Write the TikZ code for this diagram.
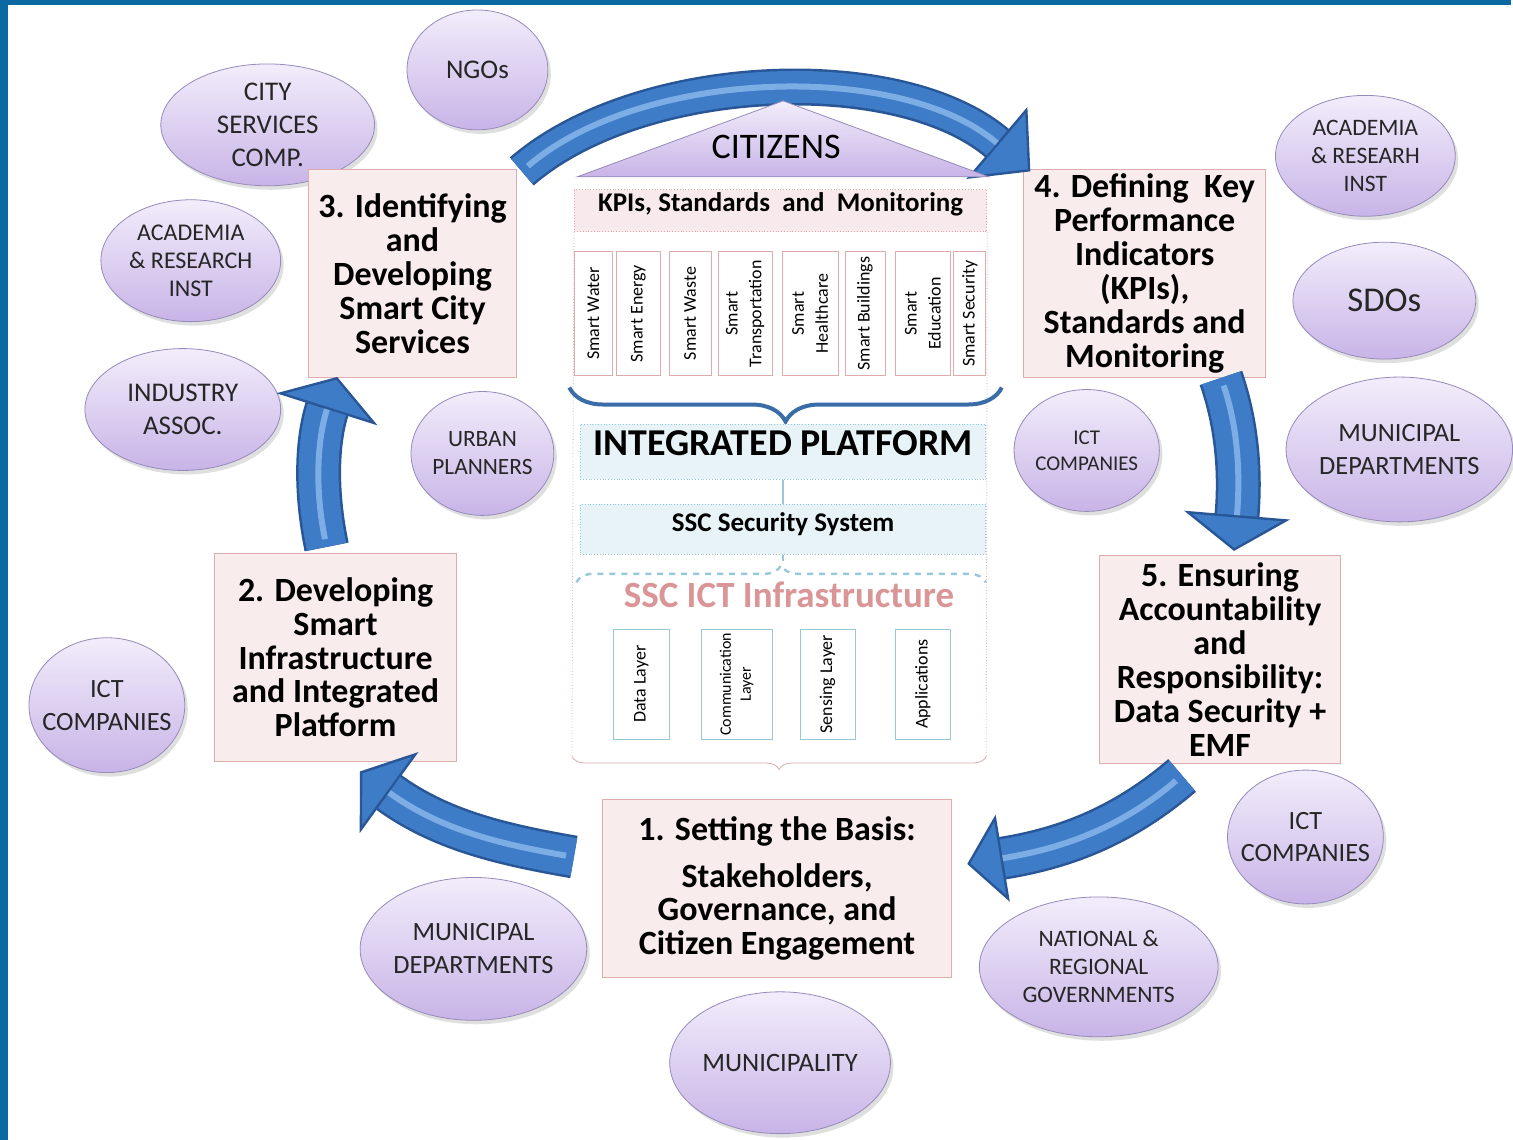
\documentclass[tikz,border=0pt]{standalone}
\usepackage{fontspec}
\setmainfont{Carlito}
\usetikzlibrary{arrows.meta,shapes.geometric,shadows,decorations.pathreplacing}

\definecolor{frameblue}{RGB}{10,105,160}
\definecolor{stepfill}{RGB}{249,236,236}
\definecolor{stepline}{RGB}{222,172,172}
\definecolor{kpifill}{RGB}{248,234,236}
\definecolor{ovaltop}{RGB}{242,237,251}
\definecolor{ovalbottom}{RGB}{200,180,231}
\definecolor{ovalline}{RGB}{150,138,185}
\definecolor{platfill}{RGB}{231,243,247}
\definecolor{platline}{RGB}{150,200,218}
\definecolor{infrapink}{RGB}{218,150,150}
\definecolor{arrowbody}{RGB}{62,124,200}
\definecolor{arrowedge}{RGB}{40,86,150}
\definecolor{arrowshine}{RGB}{140,186,236}
\definecolor{bracecol}{RGB}{58,108,168}

\newcommand{\stagefont}{\bfseries\fontsize{17}{17}\selectfont}

\begin{document}
\begin{tikzpicture}[x=0.5pt, y=-0.5pt,
    stage/.style={draw=stepline, fill=stepfill, align=center, inner sep=0pt, font=\stagefont},
    oval/.style={ellipse, draw=ovalline, top color=ovaltop, bottom color=ovalbottom, inner sep=0pt,
        align=center, text=black!85, drop shadow={opacity=0.25, shadow xshift=1.5pt, shadow yshift=-2pt}},
    service/.style={draw=stepline, fill=white, rotate=90, minimum width=62pt, inner sep=0pt,
        align=center, font=\fontsize{9}{12}\selectfont},
    layer/.style={draw=platline, fill=white, rotate=90, minimum width=55pt, inner sep=0pt,
        align=center, font=\fontsize{9}{11}\selectfont},
    band/.style={densely dotted, minimum width=203pt, inner ysep=0pt},
    bigarrow/.style n args={4}{draw=arrowedge, line width=#2,
        -{Triangle[length=#4, width=#3, line width=1.2pt, fill=arrowbody]},
        postaction={draw=arrowbody, line width=#1, shorten >=#4, -},
        postaction={draw=arrowshine, line width=3pt, shorten >=#4, shorten <=4pt, opacity=0.8, -}}]

    % page and frame
    \fill[white] (0,0) rectangle (1513,1141);
    \fill[frameblue] (0,0) rectangle (1513,5);
    \fill[frameblue] (0,0) rectangle (8,1141);

    % stakeholders
    \node[oval, minimum width=70.5pt, minimum height=60pt, font=\fontsize{13.5}{16.5}\selectfont] (ngo) at (478,70) {NGOs};
    \node[oval, minimum width=107pt, minimum height=61pt, font=\fontsize{13.5}{16.5}\selectfont] (citycomp) at (268,125) {CITY\\SERVICES\\COMP.};
    \node[oval, minimum width=90pt, minimum height=61pt, font=\fontsize{12}{14}\selectfont] (acadL) at (191,261) {ACADEMIA\\\& RESEARCH\\INST};
    \node[oval, minimum width=98pt, minimum height=61pt, font=\fontsize{13.5}{16.5}\selectfont] (industry) at (183,410) {INDUSTRY\\ASSOC.};
    \node[oval, minimum width=71.5pt, minimum height=62pt, font=\fontsize{11.7}{14}\selectfont] (urban) at (483,454) {URBAN\\PLANNERS};
    \node[oval, inner xsep=-6pt, minimum width=78pt, minimum height=67.5pt, font=\fontsize{13.2}{16.5}\selectfont] (ictL) at (107,706) {ICT\\COMPANIES};
    \node[oval, minimum width=110.5pt, minimum height=71.5pt, font=\fontsize{13.2}{16.5}\selectfont] (muniL) at (474,950) {MUNICIPAL\\DEPARTMENTS};
    \node[oval, minimum width=110.5pt, minimum height=71pt, font=\fontsize{13.3}{16.5}\selectfont] (municipality) at (781,1064) {MUNICIPALITY};
    \node[oval, minimum width=119.5pt, minimum height=70pt, font=\fontsize{11.8}{14}\selectfont] (govt) at (1100,968) {NATIONAL \&\\REGIONAL\\GOVERNMENTS};
    \node[oval, inner xsep=-6pt, minimum width=78pt, minimum height=67pt, font=\fontsize{13.2}{16}\selectfont] (ictB) at (1307,838) {ICT\\COMPANIES};
    \node[oval, minimum width=110pt, minimum height=72.5pt, font=\fontsize{13.2}{16.5}\selectfont] (muniR) at (1401,450) {MUNICIPAL\\DEPARTMENTS};
    \node[oval, minimum width=71.5pt, minimum height=61pt, font=\fontsize{10.5}{13}\selectfont] (ictM) at (1088,451) {ICT\\COMPANIES};
    \node[oval, minimum width=91.5pt, minimum height=58.5pt, font=\fontsize{17.4}{20}\selectfont] (sdo) at (1386,301) {SDOs};
    \node[oval, minimum width=90pt, minimum height=60.5pt, font=\fontsize{11.8}{14}\selectfont] (acadR) at (1367,156) {ACADEMIA\\\& RESEARH\\INST};

    % the five stages
    \node[stage, minimum width=175pt, minimum height=89.5pt] (b1) at (778,889.5) {1. Setting the Basis:\\[6.5pt]Stakeholders,\\Governance, and\\Citizen Engagement};
    \node[stage, minimum width=121pt, minimum height=104pt] (b2) at (336,658) {2. Developing\\Smart\\Infrastructure\\and Integrated\\Platform};
    \node[stage, minimum width=104pt, minimum height=104pt] (b3) at (413,274) {3. Identifying\\and\\Developing\\Smart City\\Services};
    \node[stage, minimum width=121pt, minimum height=104pt] (b4) at (1146,274) {4. Defining\ \ Key\\Performance\\Indicators\\(KPIs),\\Standards and\\Monitoring};
    \node[stage, minimum width=120.5pt, minimum height=104pt] (b5) at (1221.5,660) {5. Ensuring\\Accountability\\and\\Responsibility:\\Data Security +\\EMF};

    % centre column
    \node[band, draw=stepline, fill=kpifill, minimum width=206.5pt, minimum height=21pt, text depth=8.5pt,
        font=\bfseries\fontsize{13.5}{16}\selectfont] (kpi) at (781.5,211) {KPIs, Standards\ \ and\ \ Monitoring};
    \draw[stepline, densely dotted] (kpi.south west) -- ++(-2,525) coordinate (stackBL);
    \draw[stepline, densely dotted] (kpi.south east) -- ++(-1,525) coordinate (stackBR);
    \draw[stepline, decorate, decoration={brace, amplitude=6.5pt}] (stackBR) -- (stackBL);

    \node[service, minimum height=19pt] (water) at (594,314) {Smart Water};
    \node[service, minimum height=22pt] (energy) at (639,314) {Smart Energy};
    \node[service, minimum height=21pt] (waste) at (691,314) {Smart Waste};
    \node[service, minimum height=27pt] (transport) at (746,314) {Smart\\Transportation};
    \node[service, minimum height=28pt] (health) at (811,314) {Smart\\Healthcare};
    \node[service, minimum height=20pt] (buildings) at (866,314) {Smart Buildings};
    \node[service, minimum height=28pt] (education) at (924,314) {Smart\\Education};
    \node[service, minimum height=16pt] (security) at (971,314) {Smart Security};

    \draw[bracecol, line width=2pt, decorate, decoration={brace, amplitude=17pt}] (1003,388) -- (570,388);

    \node[band, draw=platline, fill=platfill, minimum height=27.5pt, text depth=8.5pt,
        font=\bfseries\fontsize{19}{21}\selectfont] (platform) at (784,452.5) {INTEGRATED PLATFORM};
    \node[band, draw=platline, fill=platfill, minimum height=25pt, text depth=7pt,
        font=\bfseries\fontsize{13.5}{16}\selectfont] (ssc) at (784,530) {SSC Security System};
    \coordinate (ictTop) at (784,567);
    \draw[platline, line width=1pt] (platform) -- (ssc);
    \draw[platline, dashed, line width=1.2pt] (ssc) -- (ictTop);
    \draw[platline, dashed, line width=1.2pt, decorate, decoration={brace, amplitude=8.5pt}] (577,583) -- (987,583);

    \node[text=infrapink, font=\bfseries\fontsize{18.5}{20}\selectfont] (infra) at (790,596) {SSC ICT Infrastructure};
    \node[layer, minimum height=28pt] (data) at (642,685) {Data Layer};
    \node[layer, minimum height=35.5pt, font=\fontsize{8}{10}\selectfont] (comm) at (737.5,685) {Communication\\Layer};
    \node[layer, minimum height=27.5pt] (sensing) at (828.5,685) {Sensing Layer};
    \node[layer, minimum height=28pt] (apps) at (924,685) {Applications};

    % cycle arrows
    \draw[bigarrow={16pt}{18.5pt}{47pt}{22pt}] ([shift={(5,2)}]b3.north east) .. controls +(118,-102) and +(-132,-112) .. ([shift={(7,2)}]b4.north west);
    \draw[bigarrow={20pt}{22.5pt}{53pt}{18pt}] ([shift={(-45,0)}]b4.south east) .. controls +(18,52) and +(6,-72) .. ([shift={(14,-4)}]b5.north);
    \draw[bigarrow={19pt}{21.5pt}{44pt}{18pt}] ([shift={(-38,12)}]b5.south) .. controls +(-63,54) and +(92,-15) .. ([shift={(15,-24.5)}]b1.east);
    \draw[bigarrow={19pt}{21.5pt}{50pt}{18pt}] ([shift={(-28,-31.5)}]b1.west) .. controls +(-75,-13) and +(80,58) .. ([shift={(-97,10)}]b2.south east);
    \draw[bigarrow={20pt}{22.5pt}{53pt}{17pt}] ([shift={(-9,-6)}]b2.north) .. controls +(-12,-58) and +(-20,63) .. ([shift={(29,-1)}]b3.south west);

    % citizens roof
    \path[draw=ovalline, top color=ovaltop, bottom color=ovalbottom] (578,177) -- (784,101) -- (990,177) -- cycle;
    \node[font=\fontsize{18}{20}\selectfont] (citizens) at (777,147) {CITIZENS};
\end{tikzpicture}
\end{document}
